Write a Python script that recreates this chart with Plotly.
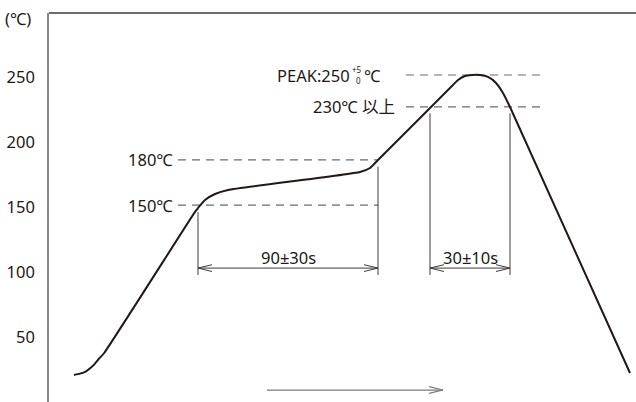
import plotly.graph_objects as go

# Reflow profile curve (time in s, temperature in ℃)
time_s = [12.5, 15.5, 18.5, 21.0, 23.0, 25.0, 27.5, 73, 74.5, 78, 83, 89.5, 155.5, 160.5, 164.5,
          195.5, 200.5, 204.5, 208, 211.5, 215.5, 219.5, 223.5, 227, 230.5, 290.5]
temp_c = [20.8, 21.8, 23.6, 26.5, 29.5, 33.3, 37.5, 146.2, 149.2, 155.4, 160, 163.1, 176.9, 180, 186.2,
          233.8, 241.5, 247.7, 250.8, 251.5, 251.5, 250, 245.4, 237.7, 226.9, 22.3]

# Reference levels (drawn position) and their labels
level_values = [151.5, 186.2, 227.0, 251.5]
level_labels = ["150℃", "180℃", "230℃ 以上", "PEAK:250"]
level_x_start = [64.5, 64.5, 178.5, 178.5]
level_x_end = [164.5, 164.5, 248.0, 248.0]

# Time spans (dimension brackets)
span_starts = [74.5, 190.5]
span_ends = [164.5, 230.5]
span_top_left = [146.0, 222.0]
span_top_right = [181.0, 222.0]
span_labels = ["90±30s", "30±10s"]
span_bottom = 97.7
span_arrow_level = 103.0

# Time axis arrow
time_arrow = [109.0, 197.0]
time_arrow_level = 9.2

y_ticks = [50, 100, 150, 200, 250]

INK = "#231815"
GRAY = "#6f6b6a"
FONT = "Noto Sans, Noto Sans CJK JP, sans-serif"
FS = 16.5
HEAD_LEN = 7.0     # arrowhead length (s)
HEAD_HALF = 2.6    # arrowhead half height (℃)

fig = go.Figure()

# dashed reference lines
for y, x0, x1 in zip(level_values, level_x_start, level_x_end):
    fig.add_trace(go.Scatter(x=[x0, x1], y=[y, y], mode="lines",
                             line=dict(color=GRAY, width=1.2, dash="8px,6px"),
                             hoverinfo="skip", showlegend=False))

# bracket verticals + double arrows
for xs, xe, tl, tr in zip(span_starts, span_ends, span_top_left, span_top_right):
    fig.add_trace(go.Scatter(x=[xs, xs, None, xe, xe], y=[tl, span_bottom, None, tr, span_bottom],
                             mode="lines", line=dict(color="#3e3a39", width=1),
                             hoverinfo="skip", showlegend=False))
    fig.add_trace(go.Scatter(
        x=[xs, xe, None, xs + HEAD_LEN, xs, xs + HEAD_LEN, None, xe - HEAD_LEN, xe, xe - HEAD_LEN],
        y=[span_arrow_level, span_arrow_level, None,
           span_arrow_level + HEAD_HALF, span_arrow_level, span_arrow_level - HEAD_HALF, None,
           span_arrow_level + HEAD_HALF, span_arrow_level, span_arrow_level - HEAD_HALF],
        mode="lines", line=dict(color="#3e3a39", width=1),
        hoverinfo="skip", showlegend=False))

# time arrow at the bottom
ta0, ta1 = time_arrow
fig.add_trace(go.Scatter(
    x=[ta0, ta1, None, ta1 - HEAD_LEN, ta1, ta1 - HEAD_LEN],
    y=[time_arrow_level, time_arrow_level, None,
       time_arrow_level + HEAD_HALF, time_arrow_level, time_arrow_level - HEAD_HALF],
    mode="lines", line=dict(color="#7d7979", width=1.2),
    hoverinfo="skip", showlegend=False))

# profile curve
fig.add_trace(go.Scatter(x=time_s, y=temp_c, mode="lines",
                         line=dict(color=INK, width=2, shape="spline", smoothing=0.5),
                         hoverinfo="skip", showlegend=False))

# level labels (right-aligned before dashed lines)
label_right = [63.0, 63.0, 174.0, 151.5]
for lab, y, xr in zip(level_labels, level_values, label_right):
    fig.add_annotation(x=xr, y=y, text=lab, showarrow=False, xanchor="right",
                       yanchor="middle", font=dict(size=FS, color=INK, family=FONT))
# PEAK tolerance (+5 / 0) and unit
fig.add_annotation(x=154.0, y=level_values[3] + 4.6, text="+5", showarrow=False,
                   xanchor="center", yanchor="middle", font=dict(size=8, color=INK, family=FONT))
fig.add_annotation(x=154.6, y=level_values[3] - 4.4, text="0", showarrow=False,
                   xanchor="center", yanchor="middle", font=dict(size=8, color=INK, family=FONT))
fig.add_annotation(x=156.5, y=level_values[3], text="℃", showarrow=False,
                   xanchor="left", yanchor="middle", font=dict(size=FS, color=INK, family=FONT))

# span labels
for xs, xe, lab in zip(span_starts, span_ends, span_labels):
    fig.add_annotation(x=(xs + xe) / 2, y=span_arrow_level + 8.5, text=lab, showarrow=False,
                       xanchor="center", yanchor="middle", font=dict(size=FS, color=INK, family=FONT))

# unit label
fig.add_annotation(xref="paper", yref="paper", x=-0.053, y=0.985, text="(℃)", showarrow=False,
                   xanchor="center", yanchor="middle", font=dict(size=FS, color=INK, family=FONT))

# top border
fig.add_shape(type="line", xref="paper", yref="paper", x0=0, x1=1, y0=1, y1=1,
              line=dict(color="#3e3a39", width=1.3))

fig.update_layout(
    width=636, height=402,
    margin=dict(l=49, r=0, t=13, b=0, autoexpand=False),
    paper_bgcolor="white", plot_bgcolor="white",
    font=dict(family=FONT, color=INK, size=FS),
    xaxis=dict(range=[0, 293.5], visible=False, showgrid=False, zeroline=False, automargin=False),
    yaxis=dict(range=[0, 299.2], tickvals=y_ticks, ticktext=[str(v) for v in y_ticks],
               showgrid=False, zeroline=False, showline=True, linecolor="#8c8888",
               linewidth=1.5, ticks="", ticklabelstandoff=9, automargin=False,
               tickfont=dict(size=FS, color=INK, family=FONT)),
)

fig.write_html("out.html", config={"displayModeBar": False},
               post_script="document.body.style.margin='0';document.body.style.overflow='hidden';")
